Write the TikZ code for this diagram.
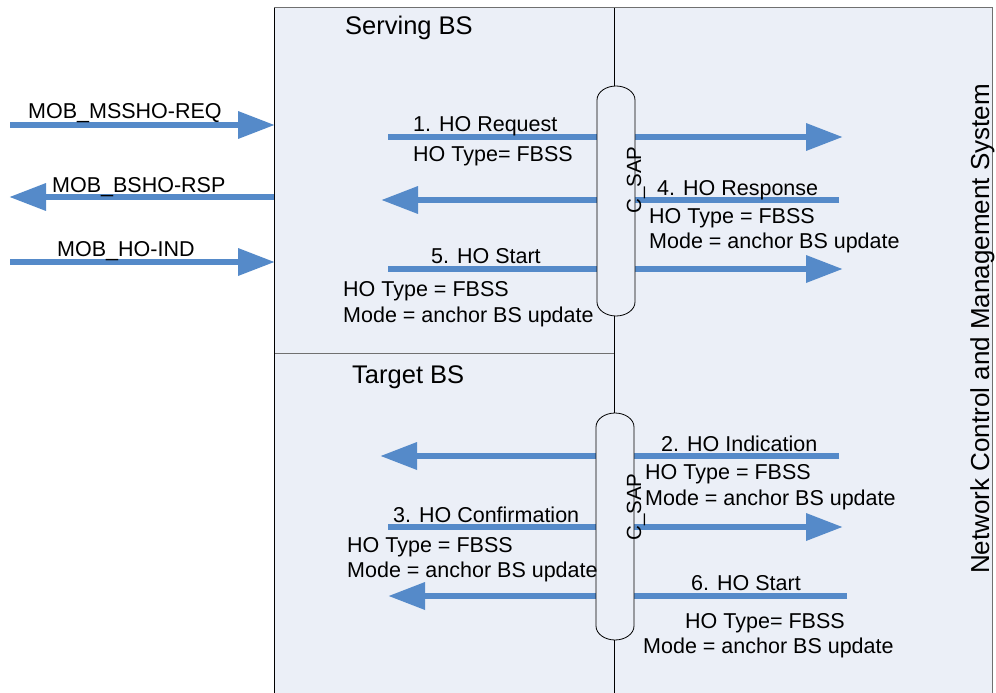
\documentclass[tikz,border=0pt]{standalone}
\usepackage{fontspec}
\setmainfont{Liberation Sans}
\usetikzlibrary{arrows.meta}
\definecolor{panel}{HTML}{EBEFF7}
\definecolor{flow}{HTML}{558AC9}
\definecolor{edge}{HTML}{707070}
\begin{document}
\begin{tikzpicture}[x=1pt,y=-1pt,
  msg/.style={draw=flow, line width=6.5pt, -{Triangle[length=37pt,width=26pt]}},
  lbl/.style={anchor=base west, inner sep=0pt, font=\fontsize{21.5}{24}\selectfont},
  head/.style={anchor=base west, inner sep=0pt, font=\fontsize{25.5}{30}\selectfont},
  sapbox/.style={draw=black, line width=0.8pt, fill=panel},
  saptext/.style={rotate=90, anchor=base, inner sep=0pt, font=\fontsize{20.5}{24}\selectfont},
]
\useasboundingbox (0,0) rectangle (996,693);
\fill[white] (0,0) rectangle (996,693);
% panels
\fill[panel] (274,8) rectangle (992,700);
\draw[edge, line width=1pt] (274,8) -- (992,8) -- (992,700);
\draw[edge, line width=1pt] (274,353) -- (614,353);
\draw[black, line width=1pt] (274,8) -- (274,700);
\draw[black, line width=1pt] (614,8) -- (614,700);
% coordinates
\coordinate (reqL) at (10,125);  \coordinate (reqR) at (275,125);
\coordinate (rspR) at (274,197); \coordinate (rspL) at (9,197);
\coordinate (indL) at (10,262);  \coordinate (indR) at (275,262);
\coordinate (m1a) at (388,137);  \coordinate (m1b) at (843,137);
\coordinate (m4a) at (839,200);  \coordinate (m4b) at (381,200);
\coordinate (m5a) at (388,269);  \coordinate (m5b) at (843,269);
\coordinate (m2a) at (839,456);  \coordinate (m2b) at (380,456);
\coordinate (m3a) at (388,527);  \coordinate (m3b) at (843,527);
\coordinate (m6a) at (847,596);  \coordinate (m6b) at (388,596);
% arrows
\draw[msg] (reqL) -- (reqR);
\draw[msg] (rspR) -- (rspL);
\draw[msg] (indL) -- (indR);
\draw[msg] (m1a) -- (m1b);
\draw[msg] (m4a) -- (m4b);
\draw[msg] (m5a) -- (m5b);
\draw[msg] (m2a) -- (m2b);
\draw[msg] (m3a) -- (m3b);
\draw[msg] (m6a) -- (m6b);
% C_SAP capsules
\draw[sapbox] (597,100) .. controls (597,92) and (606,86) .. (616,86)
  .. controls (626,86) and (635,92) .. (635,100) -- (635,302)
  .. controls (635,310) and (626,316) .. (616,316)
  .. controls (606,316) and (597,310) .. (597,302) -- cycle;
\draw[sapbox] (596,427) .. controls (596,419) and (605,413) .. (615,413)
  .. controls (625,413) and (634,419) .. (634,427) -- (634,626)
  .. controls (634,634) and (625,640) .. (615,640)
  .. controls (605,640) and (596,634) .. (596,626) -- cycle;
\node[saptext] (sap1) at (641,180) {C\_SAP};
\node[saptext] (sap2) at (641,507) {C\_SAP};
% headings
\node[head] (sbs) at (345,35) {Serving BS};
\node[head] (tbs) at (352,383) {Target BS};
\node[rotate=90, anchor=base, inner sep=0pt, font=\fontsize{26}{30}\selectfont] (nms) at (989,329) {Network Control and Management System};
% left labels
\node[lbl] (l1) at (28,118) {MOB\_MSSHO-REQ};
\node[lbl] (l2) at (52,192) {MOB\_BSHO-RSP};
\node[lbl] (l3) at (57,256) {MOB\_HO-IND};
% message labels
\node[lbl] (t1) at (413,131) {1. HO Request};
\node[lbl] (t1b) at (413,161) {HO Type= FBSS};
\node[lbl] (t4) at (657,195) {4. HO Response};
\node[lbl] (t4b) at (649,223) {HO Type = FBSS};
\node[lbl] (t4c) at (649,248) {Mode = anchor BS update};
\node[lbl] (t5) at (431,263) {5. HO Start};
\node[lbl] (t5b) at (343,296) {HO Type = FBSS};
\node[lbl] (t5c) at (343,322) {Mode = anchor BS update};
\node[lbl] (t2) at (661,451) {2. HO Indication};
\node[lbl] (t2b) at (645,479) {HO Type = FBSS};
\node[lbl] (t2c) at (645,505) {Mode = anchor BS update};
\node[lbl] (t3) at (393,522) {3. HO Confirmation};
\node[lbl] (t3b) at (347,552) {HO Type = FBSS};
\node[lbl] (t3c) at (347,577) {Mode = anchor BS update};
\node[lbl] (t6) at (691,590) {6. HO Start};
\node[lbl] (t6b) at (685,628) {HO Type= FBSS};
\node[lbl] (t6c) at (643,653) {Mode = anchor BS update};
\end{tikzpicture}
\end{document}
